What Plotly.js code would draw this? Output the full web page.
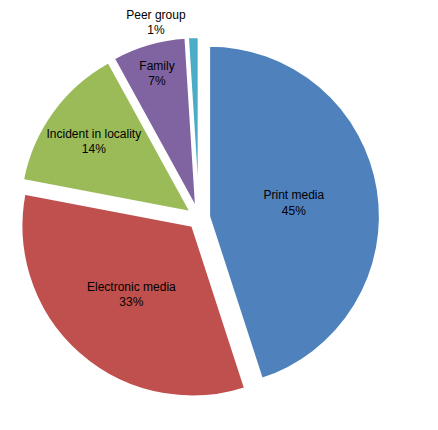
<!DOCTYPE html>
<html>
<head>
<meta charset="utf-8">
<script src="https://cdn.plot.ly/plotly-3.0.1.min.js"></script>
<style>
  html, body { margin: 0; padding: 0; background: #ffffff; }
  #chart { width: 438px; height: 430px; }
</style>
</head>
<body>
<div id="chart"></div>
<script>
// Sources of awareness, share of respondents (%)
const categories = ["Print media", "Electronic media", "Incident in locality", "Family", "Peer group"];
const shares = [45, 33, 14, 7, 1];
const sliceColors = ["#4F81BD", "#C0504D", "#9BBB59", "#8064A2", "#4BACC6"];
const labelPositions = ["inside", "inside", "inside", "inside", "outside"];

const labelFont = { family: "Liberation Sans, Arial, sans-serif", size: 12, color: "#000000" };

const trace = {
  type: "pie",
  labels: categories,
  values: shares,
  sort: false,
  direction: "clockwise",
  rotation: 0,
  pull: 0.06,
  marker: { colors: sliceColors, line: { color: "#ffffff", width: 2 } },
  texttemplate: "%{label}<br>%{percent:.0%}",
  textposition: labelPositions,
  insidetextorientation: "horizontal",
  textfont: labelFont,
  insidetextfont: labelFont,
  outsidetextfont: labelFont,
  hoverinfo: "label+percent",
  showlegend: false
};

const layout = {
  width: 438,
  height: 430,
  margin: { l: 18, r: 58, t: 37, b: 31 },
  paper_bgcolor: "#ffffff",
  plot_bgcolor: "#ffffff",
  showlegend: false
};

Plotly.newPlot("chart", [trace], layout, { displayModeBar: false, staticPlot: true });
</script>
</body>
</html>
